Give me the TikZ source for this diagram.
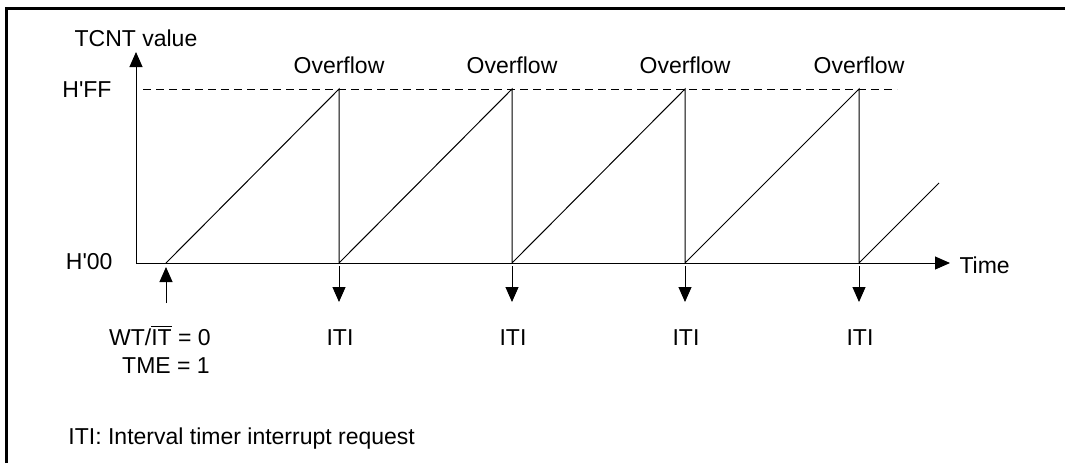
\documentclass[tikz,border=0pt]{standalone}
\usepackage{fontspec}
\setmainfont{Liberation Sans}[Ligatures=TeXOff]
\usetikzlibrary{arrows.meta}
\begin{document}
\begin{tikzpicture}[x=0.5pt,y=-0.5pt,line width=0.5pt,
  arr/.style={-{Triangle[length=7.5pt,width=6.5pt]}},
  txt/.style={inner sep=0pt,font=\fontsize{11.5}{14}\selectfont},
  framestyle/.style={line width=1.5pt},
  levelline/.style={dash pattern=on 4pt off 2.5pt}]
\useasboundingbox (0,0) rectangle (1065,463);
% frame
\coordinate (fbl) at (6,463);
\coordinate (ftl) at (6,8);
\coordinate (ftr) at (1065,8);
\draw[framestyle] (fbl) -- (ftl) -- (ftr);
% axes
\coordinate (orig) at (136,263);
\coordinate (ytip) at (136,52);
\coordinate (xtip) at (950,263);
\draw[arr] (orig) -- (ytip);
\draw[arr] (orig) -- (xtip);
% H'FF level
\coordinate (dl) at (143,89);
\coordinate (dr) at (897,89);
\draw[levelline] (dl) -- (dr);
% sawtooth
\coordinate (s0) at (166,263);
\coordinate (p1) at (339,89);  \coordinate (b1) at (339,263);
\coordinate (p2) at (512,89);  \coordinate (b2) at (512,263);
\coordinate (p3) at (685,89);  \coordinate (b3) at (685,263);
\coordinate (p4) at (859,89);  \coordinate (b4) at (859,263);
\coordinate (e5) at (939,183);
\draw (s0) -- (p1) -- (b1) -- (p2) -- (b2) -- (p3) -- (b3) -- (p4) -- (b4) -- (e5);
% labels
\node[txt,anchor=base] (tcnt) at (136,46) {TCNT value};
\node[txt,anchor=base east] (hff) at (112,97) {H'FF};
\node[txt,anchor=base east] (h00) at (113,269) {H'00};
\node[txt,anchor=base west] (time) at (959,273) {Time};
\foreach \i/\x in {1/339,2/512,3/685,4/859}{
  \node[txt,anchor=base] (ov\i) at (\x,73) {Overflow};
  \coordinate (as\i) at (\x,266);
  \coordinate (ae\i) at (\x,302);
  \draw[arr] (as\i) -- (ae\i);
  \node[txt,anchor=base] (iti\i) at (\x+1,345) {ITI};
}
% start arrow
\coordinate (us) at (166,303);
\coordinate (ue) at (166,267);
\draw[arr] (us) -- (ue);
\node[txt,anchor=base] (wt) at (160,345) {WT/$\overline{\mbox{IT}}$ = 0};
\node[txt,anchor=base] (tme) at (166,373) {TME = 1};
\node[txt,anchor=base west] (note) at (68,444) {ITI: Interval timer interrupt request};
\end{tikzpicture}
\end{document}
